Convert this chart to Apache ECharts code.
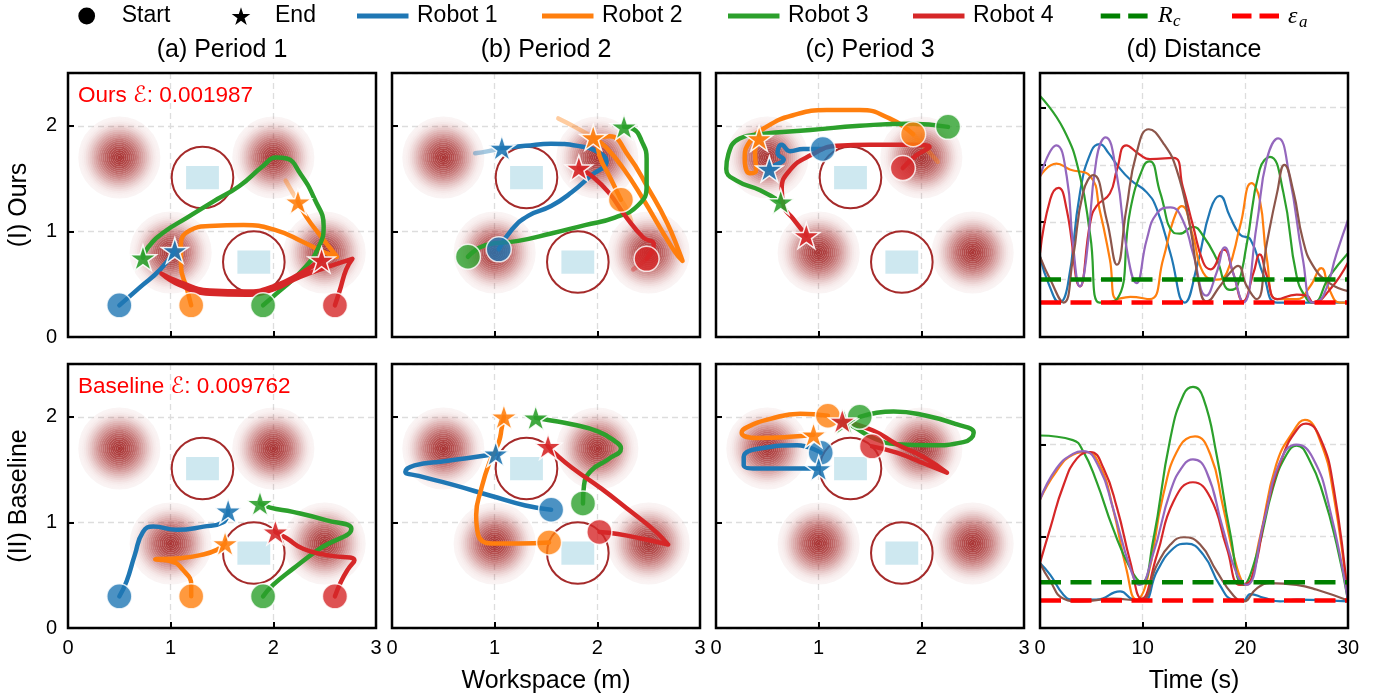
<!DOCTYPE html>
<html>
<head>
<meta charset="utf-8">
<script src="https://cdn.jsdelivr.net/npm/echarts@6/dist/echarts.min.js"></script>
<style>
  html, body { margin: 0; padding: 0; background: #fff; }
  #chart { width: 1390px; height: 698px; }
</style>
</head>
<body>
<div id="chart"></div>
<script>
// ---------- labels ----------
const robotNames = ['Robot 1', 'Robot 2', 'Robot 3', 'Robot 4'];
const robotColors = ['#1f77b4', '#ff7f0e', '#2ca02c', '#d62728'];
const pairColors = ['#1f77b4', '#ff7f0e', '#2ca02c', '#d62728', '#9467bd', '#8c564b'];
const columnTitles = ['(a) Period 1', '(b) Period 2', '(c) Period 3', '(d) Distance'];
const rowTitles = ['(I) Ours', '(II) Baseline'];
const errorNotes = ['Ours \u2130: 0.001987', 'Baseline \u2130: 0.009762'];

// ---------- workspace map ----------
const hazardCenters = [[0.5, 1.7], [2.0, 1.7], [1.0, 0.8], [2.5, 0.8]];
const hazardRadius = 0.4;
const keepOutCenters = [[1.31, 1.51], [1.81, 0.71]];
const keepOutRadius = 0.3;
const targetBoxes = [[1.15, 1.40, 1.47, 1.62], [1.65, 0.60, 1.97, 0.82]];

// ---------- trajectories (x, y in m), order: Robot 1..4 ----------
const oursP1 = [
  [[0.5,0.3],[0.7,0.47],[0.9,0.64],[1.04,0.82]],
  [[1.2,0.3],[1.16,0.45],[1.1,0.68],[1.1,0.88],[1.19,1.01],[1.38,1.05],[1.71,1.06],[2.03,1.01],[2.29,0.9],[2.5,0.8],[2.62,0.76],[2.45,0.97],[2.32,1.14],[2.24,1.28]],
  [[1.9,0.3],[2.03,0.41],[2.31,0.66],[2.45,0.87],[2.49,1.05],[2.4,1.31],[2.26,1.55],[2.13,1.69],[2.03,1.7],[1.9,1.62],[1.67,1.43],[1.41,1.28],[1.16,1.13],[0.93,0.99],[0.78,0.85],[0.73,0.75]],
  [[2.6,0.3],[2.65,0.45],[2.71,0.64],[2.77,0.74],[2.58,0.68],[2.26,0.57],[2.0,0.45],[1.74,0.4],[1.38,0.41],[1.09,0.49],[0.91,0.6],[1.09,0.52],[1.38,0.44],[1.74,0.43],[2.0,0.48],[2.26,0.6],[2.47,0.73]]
];
const oursP2 = [
  [[1.04,0.83],[1.17,1.02],[1.33,1.15],[1.55,1.24],[1.75,1.37],[1.94,1.53],[2.09,1.66],[2.01,1.75],[1.81,1.81],[1.55,1.83],[1.3,1.81],[1.07,1.79]],
  [[2.23,1.3],[2.12,1.52],[2.02,1.72],[2.0,1.86],[2.12,1.9],[2.3,1.72],[2.5,1.4],[2.68,1.08],[2.8,0.8],[2.83,0.72],[2.76,0.8],[2.62,1.02],[2.45,1.3],[2.25,1.6],[2.08,1.8],[1.96,1.89]],
  [[0.74,0.76],[0.91,0.87],[1.23,0.91],[1.55,0.98],[1.88,1.06],[2.17,1.13],[2.4,1.25],[2.48,1.43],[2.48,1.69],[2.43,1.86],[2.35,1.97],[2.26,1.99]],
  [[2.48,0.74],[2.55,0.88],[2.45,0.94],[2.27,1.15],[2.11,1.37],[1.94,1.53],[1.82,1.6]]
];
const oursP3 = [
  [[1.04,1.78],[0.85,1.78],[0.72,1.76],[0.64,1.82],[0.6,1.74],[0.66,1.68],[0.58,1.63],[0.52,1.59]],
  [[1.92,1.92],[1.69,2.07],[1.4,2.15],[1.08,2.15],[0.75,2.1],[0.49,1.99],[0.33,1.85],[0.28,1.69],[0.33,1.55],[0.39,1.58],[0.38,1.75],[0.42,1.88]],
  [[2.26,1.99],[1.89,2.02],[1.4,2.0],[0.92,1.96],[0.43,1.92],[0.23,1.88],[0.12,1.73],[0.1,1.59],[0.2,1.48],[0.43,1.39],[0.63,1.28]],
  [[1.82,1.6],[1.95,1.72],[2.08,1.8],[1.89,1.82],[1.5,1.82],[1.18,1.81],[0.92,1.72],[0.72,1.58],[0.64,1.4],[0.66,1.24],[0.75,1.12],[0.88,0.96]]
];
// faint neighbouring-period pieces: [robot index, points]
const oursP1Context = [[1, [[2.24,1.28],[2.18,1.38],[2.12,1.48]]]];
const oursP2Context = [
  [0, [[1.07,1.79],[0.94,1.76],[0.81,1.74]]],
  [1, [[1.96,1.89],[1.78,1.99],[1.62,2.07]]],
  [1, [[2.33,1.10],[2.28,1.22],[2.23,1.3]]],
  [3, [[2.35,0.64],[2.42,0.69],[2.48,0.74]]]
];
const oursP3Context = [[1, [[1.92,1.92],[2.05,1.78],[2.16,1.66]]]];

const baseP1 = [
  [[0.5,0.3],[0.57,0.44],[0.65,0.69],[0.73,0.91],[0.83,0.96],[1.06,0.93],[1.32,0.96],[1.51,1.0],[1.56,1.11]],
  [[1.2,0.3],[1.2,0.41],[1.12,0.55],[1.01,0.63],[0.85,0.65],[1.08,0.66],[1.29,0.69],[1.45,0.74],[1.53,0.8]],
  [[1.9,0.3],[2.0,0.41],[2.19,0.56],[2.45,0.75],[2.76,0.94],[2.52,1.02],[2.19,1.1],[1.97,1.14],[1.87,1.18]],
  [[2.6,0.3],[2.66,0.44],[2.73,0.56],[2.79,0.64],[2.52,0.69],[2.29,0.75],[2.13,0.85],[2.02,0.91]]
];
const baseP2 = [
  [[1.55,1.12],[1.3,1.16],[0.97,1.25],[0.58,1.36],[0.26,1.44],[0.13,1.48],[0.22,1.54],[0.51,1.58],[0.81,1.62],[1.01,1.65]],
  [[1.53,0.81],[1.23,0.8],[0.97,0.8],[0.84,0.88],[0.82,1.07],[0.87,1.32],[0.95,1.57],[1.04,1.76],[1.07,1.9],[1.09,2.0]],
  [[1.86,1.18],[1.87,1.35],[1.94,1.49],[2.11,1.6],[2.23,1.7],[2.17,1.77],[2.01,1.86],[1.75,1.93],[1.52,1.97],[1.4,1.99]],
  [[2.02,0.91],[2.2,0.89],[2.46,0.84],[2.69,0.79],[2.56,0.92],[2.33,1.1],[2.04,1.32],[1.75,1.52],[1.59,1.65],[1.52,1.72]]
];
const baseP3 = [
  [[1.02,1.66],[0.79,1.73],[0.49,1.71],[0.27,1.62],[0.27,1.54],[0.49,1.51],[0.79,1.51],[1.0,1.51]],
  [[1.09,2.01],[0.82,2.03],[0.53,1.98],[0.3,1.9],[0.25,1.85],[0.4,1.8],[0.72,1.81],[0.95,1.83]],
  [[1.4,2.0],[1.73,2.05],[2.05,2.01],[2.34,1.93],[2.51,1.85],[2.41,1.76],[2.08,1.73],[1.76,1.74],[1.53,1.8],[1.35,1.9],[1.25,1.95]],
  [[1.52,1.72],[1.76,1.66],[2.02,1.56],[2.25,1.47],[2.02,1.62],[1.76,1.74],[1.53,1.87],[1.23,1.96]]
];

// ---------- pairwise distances [t (s), d (m)] ----------
const oursDist1 = [[0,0.70],[0.9,0.45],[1.9,0.3],[2.7,0.45],[3.9,1.26],[5.0,1.62],[5.8,1.68],[6.7,1.6],[7.5,1.5],[8.8,1.37],[10.4,1.26],[11.4,1.11],[12.7,0.73],[14.1,0.3],[15.3,0.62],[16.6,1.11],[17.5,1.23],[18.5,1.05],[19.5,0.89],[20.5,0.85],[21.8,0.53],[23.1,0.3],[26,0.3],[30,0.3]];
const oursDist2 = [[0,1.40],[1.6,1.51],[2.9,1.46],[4.9,1.40],[5.8,1.11],[6.8,0.68],[7.5,0.33],[8.8,0.35],[10.7,0.33],[12,0.68],[13,1.02],[13.8,1.14],[14.9,0.88],[15.9,0.56],[17.2,0.5],[18.2,0.56],[19.5,0.97],[20.6,1.34],[21.4,1.2],[22.1,0.68],[23.1,0.33],[25,0.33],[26.3,0.44],[27.4,0.6],[28.2,0.41],[29.2,0.3],[30,0.3]];
const oursDist3 = [[0,2.1],[2.3,1.81],[3.9,1.40],[4.9,0.88],[5.8,0.3],[7.5,0.33],[8.8,1.11],[10.1,1.49],[10.7,1.53],[11.7,1.26],[13,0.91],[13.6,0.9],[14.9,0.96],[15.9,0.88],[17.2,0.68],[18.5,0.41],[19.2,0.44],[20.1,0.79],[21.4,1.46],[22.4,1.57],[23.7,1.26],[25,0.53],[26,0.33],[26.6,0.3],[28.2,0.53],[30,0.73]];
const oursDist4 = [[0,0.73],[1,1.2],[1.8,1.3],[2.6,1.11],[3.9,0.44],[4.9,1.0],[5.5,1.14],[6.8,1.25],[7.5,1.46],[8.4,1.67],[9.7,1.59],[10.7,1.55],[13,1.56],[13.9,1.31],[14.9,0.97],[15.9,0.65],[16.6,0.59],[17.9,0.76],[18.8,0.56],[19.8,0.31],[20.8,0.56],[21.4,0.72],[22.1,0.53],[23.1,0.33],[25,0.37],[26,0.36],[26.6,0.3],[28.2,0.41],[30,0.65]];
const oursDist5 = [[0,1.4],[1.6,1.67],[2.6,1.4],[3.2,0.82],[3.9,0.44],[4.5,0.68],[5.5,1.55],[6.4,1.74],[7.5,1.4],[8.4,0.79],[9.4,0.47],[10.4,0.85],[11.4,1.08],[12.7,1.13],[13.9,1.02],[14.9,0.73],[16.2,0.36],[17.2,0.56],[18,0.78],[18.8,0.56],[19.8,0.3],[21.1,0.97],[22.1,1.55],[23.2,1.73],[24.3,1.4],[25.6,0.68],[26.6,0.3],[27.6,0.36],[28.9,0.73],[30,1.02]];
const oursDist6 = [[0,0.7],[1,0.5],[2.3,0.3],[3.2,0.68],[4.2,1.26],[5.2,1.41],[6.5,1.02],[7.5,0.63],[8.4,1.11],[9.4,1.6],[10.6,1.81],[12,1.69],[13.3,1.46],[14.6,0.97],[15.6,0.41],[16.2,0.31],[17.5,0.44],[18.5,0.56],[19.3,0.62],[20.1,0.45],[21.1,0.33],[22.1,0.82],[23.1,1.26],[23.8,1.5],[24.7,1.26],[25.6,0.85],[26.6,0.62],[28.2,0.47],[30,0.4]];

const baseDist1 = [[0,0.71],[1,0.58],[2.3,0.36],[3.2,0.31],[5.5,0.31],[7.8,0.4],[9.1,0.31],[10.1,0.3],[11.4,0.62],[13,0.87],[14.3,0.92],[15.9,0.8],[17.5,0.47],[18.8,0.31],[19.8,0.3],[20.5,0.37],[21.8,0.33],[23.4,0.29],[25,0.31],[30,0.29]];
const baseDist2 = [[0,1.4],[1.6,1.71],[3.2,1.89],[4.5,1.92],[5.8,1.78],[7.1,1.31],[8.4,0.65],[9.4,0.31],[10.4,0.51],[12,1.45],[13.6,1.98],[15.1,2.09],[16.6,1.89],[17.8,1.34],[19.2,0.65],[20.1,0.47],[21.4,0.98],[23,1.78],[24.7,2.15],[25.8,2.27],[27.3,2.04],[28.6,1.45],[30,0.3]];
const baseDist3 = [[0,2.1],[3.2,2.05],[4.2,1.93],[5.5,1.6],[7.1,1.09],[8.8,0.65],[9.9,0.5],[11,0.94],[12.7,2.07],[14,2.55],[14.9,2.63],[15.9,2.51],[17.2,1.89],[18.5,1.05],[19.8,0.47],[21.1,0.8],[22.7,1.53],[24,1.89],[25,1.99],[26.3,1.82],[27.6,1.45],[28.9,0.91],[30,0.3]];
const baseDist4 = [[0,0.71],[1,1.09],[2.3,1.56],[3.6,1.85],[4.9,1.92],[6.2,1.74],[7.5,1.31],[8.8,0.72],[9.9,0.32],[11.4,0.8],[13,1.38],[14.9,1.59],[16.6,1.42],[18.2,0.87],[19.5,0.47],[20.6,0.54],[22.1,1.31],[23.7,1.89],[25,2.16],[25.9,2.23],[27.3,2.07],[28.6,1.53],[30,0.3]];
const baseDist5 = [[0,1.4],[1.6,1.74],[3.2,1.9],[4.2,1.93],[5.8,1.74],[7.1,1.31],[8.8,0.65],[9.7,0.47],[11,0.8],[12.7,1.49],[14,1.78],[14.9,1.84],[16.2,1.71],[17.8,1.09],[19.2,0.58],[20.1,0.47],[21.8,1.16],[23.4,1.82],[25,2.0],[26.6,1.85],[28.2,1.31],[30,0.3]];
const baseDist6 = [[0,0.71],[1,0.51],[2.3,0.32],[3.9,0.29],[7.1,0.32],[9.7,0.3],[11.4,0.69],[12.7,0.91],[14,0.99],[15.6,0.91],[17.2,0.62],[18.8,0.36],[19.8,0.29],[21.1,0.43],[22.4,0.49],[25,0.47],[26.9,0.42],[30,0.3]];

const commRadius = 0.5;   // R_c
const safetyGap = 0.3;    // epsilon_a
const timeEnd = 30;

// ---------- layout ----------
const FONT = "'Liberation Sans', 'DejaVu Sans', sans-serif";
const MATH = "'Liberation Serif', 'DejaVu Serif', serif";
const colLeft = [68, 392, 716, 1040];
const rowTop = [73, 364];
const panelW = 308, panelH = 264;

function starPath() {
  let d = '';
  for (let k = 0; k < 10; k++) {
    const ang = -Math.PI / 2 + k * Math.PI / 5;
    const rad = k % 2 === 0 ? 1 : 0.382;
    d += (k === 0 ? 'M' : 'L') + (Math.cos(ang) * rad).toFixed(4) + ' ' + (Math.sin(ang) * rad).toFixed(4) + ' ';
  }
  return 'path://' + d + 'Z';
}
const STAR = starPath();

function starPoints(cx, cy, R) {
  const pts = [];
  for (let k = 0; k < 10; k++) {
    const ang = -Math.PI / 2 + k * Math.PI / 5;
    const rad = k % 2 === 0 ? R : R * 0.382;
    pts.push([cx + Math.cos(ang) * rad, cy + Math.sin(ang) * rad]);
  }
  return pts;
}

function hazardItem(params, api) {
  const c = api.coord([api.value(0), api.value(1)]);
  const R = api.size([hazardRadius, 0])[0];
  const N = 22;
  const children = [];
  for (let k = 0; k < N; k++) {
    const u1 = 1 - k / N, u0 = 1 - (k + 1) / N;
    const a = 0.05 + 0.9 * Math.pow(1 - u1 * u1, 2);
    children.push({
      type: 'ring',
      shape: { cx: c[0], cy: c[1], r: R * u1, r0: R * u0 },
      style: { fill: 'rgba(165,42,42,' + a.toFixed(3) + ')' }
    });
  }
  return { type: 'group', children: children };
}

function keepOutItem(params, api) {
  const c = api.coord([api.value(0), api.value(1)]);
  const r = api.size([keepOutRadius, 0])[0];
  return {
    type: 'circle',
    shape: { cx: c[0], cy: c[1], r: r },
    style: { fill: 'none', stroke: '#a52a2a', lineWidth: 2 }
  };
}

function boxItem(params, api) {
  const p0 = api.coord([api.value(0), api.value(3)]);
  const p1 = api.coord([api.value(2), api.value(1)]);
  return {
    type: 'rect',
    shape: { x: p0[0], y: p0[1], width: p1[0] - p0[0], height: p1[1] - p0[1] },
    style: { fill: '#add8e6', opacity: 0.6 }
  };
}

const grids = [], xAxes = [], yAxes = [], series = [], graphics = [];
const splitStyle = { show: true, lineStyle: { color: '#dddddd', type: [6, 4], width: 1.3 } };
const tickStyle = { show: true, inside: true, length: 6, lineStyle: { color: '#000', width: 2 } };

for (let row = 0; row < 2; row++) {
  for (let col = 0; col < 4; col++) {
    const gi = row * 4 + col;
    const isTime = col === 3;
    grids.push({ left: colLeft[col], top: rowTop[row], width: panelW, height: panelH });
    const xa = {
      gridIndex: gi, type: 'value', min: 0, max: isTime ? timeEnd : 3, interval: isTime ? 10 : 1,
      axisLine: { show: false }, axisTick: tickStyle,
      axisLabel: { show: row === 1, fontSize: 20, color: '#000', margin: 10, fontFamily: FONT, showMinLabel: true, showMaxLabel: true },
      splitLine: splitStyle
    };
    if (row === 1 && col === 1) Object.assign(xa, { name: 'Workspace (m)', nameLocation: 'middle', nameGap: 41, nameTextStyle: { fontSize: 25, color: '#000', fontFamily: FONT } });
    if (row === 1 && col === 3) Object.assign(xa, { name: 'Time (s)', nameLocation: 'middle', nameGap: 41, nameTextStyle: { fontSize: 25, color: '#000', fontFamily: FONT } });
    xAxes.push(xa);
    yAxes.push({
      gridIndex: gi, type: 'value', min: 0,
      max: isTime ? (row === 0 ? 2.3 : 2.88) : 2.5,
      interval: isTime ? (row === 0 ? 0.5 : 1) : 1,
      axisLine: { show: false }, axisTick: tickStyle,
      axisLabel: { show: col === 0, fontSize: 20, color: '#000', margin: 11, fontFamily: FONT, showMaxLabel: false, showMinLabel: true },
      splitLine: splitStyle
    });
    // panel frame
    graphics.push({
      type: 'rect', silent: true, z: 100,
      shape: { x: colLeft[col], y: rowTop[row], width: panelW, height: panelH },
      style: { fill: 'none', stroke: '#000', lineWidth: 2.5 }
    });
  }
}

const periodsByRow = [[oursP1, oursP2, oursP3], [baseP1, baseP2, baseP3]];
const contextByRow = [[oursP1Context, oursP2Context, oursP3Context], [[], [], []]];
const distByRow = [
  [oursDist1, oursDist2, oursDist3, oursDist4, oursDist5, oursDist6],
  [baseDist1, baseDist2, baseDist3, baseDist4, baseDist5, baseDist6]
];

for (let row = 0; row < 2; row++) {
  for (let col = 0; col < 3; col++) {
    const gi = row * 4 + col;
    const axes = { xAxisIndex: gi, yAxisIndex: gi };
    series.push(Object.assign({ type: 'custom', renderItem: hazardItem, data: hazardCenters, silent: true, z: 1 }, axes));
    series.push(Object.assign({ type: 'custom', renderItem: keepOutItem, data: keepOutCenters, silent: true, z: 2 }, axes));
    series.push(Object.assign({ type: 'custom', renderItem: boxItem, data: targetBoxes, silent: true, z: 2 }, axes));
    contextByRow[row][col].forEach(function (seg) {
      series.push(Object.assign({
        type: 'line', data: seg[1], smooth: 0.5, showSymbol: false, silent: true, z: 3,
        lineStyle: { color: robotColors[seg[0]], width: 4.5, opacity: 0.4, cap: 'round', join: 'round' }
      }, axes));
    });
    const paths = periodsByRow[row][col];
    paths.forEach(function (pts, r) {
      series.push(Object.assign({
        type: 'line', data: pts, smooth: 0.5, showSymbol: false, silent: true, z: 4,
        lineStyle: { color: robotColors[r], width: 4.5, cap: 'round', join: 'round' }
      }, axes));
    });
    paths.forEach(function (pts, r) {
      series.push(Object.assign({
        type: 'scatter', data: [pts[0]], symbol: 'circle', symbolSize: 25, silent: true, z: 5,
        itemStyle: { color: robotColors[r], opacity: 0.8, borderColor: '#fff', borderWidth: 1.5 }
      }, axes));
    });
    paths.forEach(function (pts, r) {
      series.push(Object.assign({
        type: 'scatter', data: [pts[pts.length - 1]], symbol: STAR, symbolKeepAspect: true, symbolSize: 27, silent: true, z: 6,
        itemStyle: { color: robotColors[r], opacity: 0.9, borderColor: '#fff', borderWidth: 1.5 }
      }, axes));
    });
  }
  // distance panel
  const gi = row * 4 + 3;
  const axes = { xAxisIndex: gi, yAxisIndex: gi };
  distByRow[row].forEach(function (pts, k) {
    series.push(Object.assign({
      type: 'line', data: pts, smooth: 0.5, showSymbol: false, silent: true, z: 4,
      lineStyle: { color: pairColors[k], width: 2.2 }
    }, axes));
  });
  series.push(Object.assign({
    type: 'line', data: [[0, commRadius], [timeEnd, commRadius]], showSymbol: false, silent: true, z: 7,
    lineStyle: { color: '#008000', width: 4.5, type: [21, 9.5] }
  }, axes));
  series.push(Object.assign({
    type: 'line', data: [[0, safetyGap], [timeEnd, safetyGap]], showSymbol: false, silent: true, z: 7,
    lineStyle: { color: '#ff0000', width: 4.5, type: [21, 9.5] }
  }, axes));
}

// ---------- titles, notes, row labels ----------
const colCenters = colLeft.map(function (l) { return l + panelW / 2; });
columnTitles.forEach(function (t, i) {
  graphics.push({ type: 'text', x: colCenters[i], y: 50, silent: true,
    style: { text: t, fill: '#000', fontSize: 25, fontFamily: FONT, align: 'center', verticalAlign: 'middle' } });
});
rowTitles.forEach(function (t, i) {
  graphics.push({ type: 'text', x: 19, y: rowTop[i] + panelH / 2, rotation: Math.PI / 2, silent: true,
    style: { text: t, fill: '#000', fontSize: 25, fontFamily: FONT, align: 'center', verticalAlign: 'middle' } });
});
errorNotes.forEach(function (t, i) {
  graphics.push({ type: 'text', x: 78, y: rowTop[i] + 23, silent: true, z: 50,
    style: { text: t, fill: '#ff0000', fontSize: 22.5, fontFamily: FONT, align: 'left', verticalAlign: 'middle' } });
});

// ---------- legend row ----------
const LY = 16;
graphics.push({ type: 'circle', silent: true, shape: { cx: 86.7, cy: LY, r: 8.4 }, style: { fill: '#000' } });
graphics.push({ type: 'text', x: 121.7, y: LY, silent: true, style: { text: 'Start', fill: '#000', fontSize: 23, fontFamily: FONT, align: 'left', verticalAlign: 'middle' } });
graphics.push({ type: 'polygon', silent: true, shape: { points: starPoints(241, LY + 1, 9.8) }, style: { fill: '#000' } });
graphics.push({ type: 'text', x: 275, y: LY, silent: true, style: { text: 'End', fill: '#000', fontSize: 23, fontFamily: FONT, align: 'left', verticalAlign: 'middle' } });
const legendLineX = [357, 542, 728, 913];
robotNames.forEach(function (n, i) {
  const x0 = legendLineX[i];
  graphics.push({ type: 'line', silent: true, shape: { x1: x0, y1: LY, x2: x0 + 51.5, y2: LY }, style: { stroke: robotColors[i], lineWidth: 5 } });
  graphics.push({ type: 'text', x: x0 + 60, y: LY, silent: true, style: { text: n, fill: '#000', fontSize: 23, fontFamily: FONT, align: 'left', verticalAlign: 'middle' } });
});
graphics.push({ type: 'line', silent: true, shape: { x1: 1100.7, y1: LY, x2: 1147.6, y2: LY }, style: { stroke: '#008000', lineWidth: 5, lineDash: [19.5, 8] } });
graphics.push({ type: 'text', x: 1158, y: LY, silent: true, style: { text: 'R', fill: '#000', fontSize: 24, fontStyle: 'italic', fontFamily: MATH, align: 'left', verticalAlign: 'middle' } });
graphics.push({ type: 'text', x: 1173, y: LY + 6, silent: true, style: { text: 'c', fill: '#000', fontSize: 17, fontStyle: 'italic', fontFamily: MATH, align: 'left', verticalAlign: 'middle' } });
graphics.push({ type: 'line', silent: true, shape: { x1: 1232, y1: LY, x2: 1279, y2: LY }, style: { stroke: '#ff0000', lineWidth: 5, lineDash: [19.5, 8] } });
graphics.push({ type: 'text', x: 1288, y: LY + 1, silent: true, style: { text: '\u03b5', fill: '#000', fontSize: 24, fontStyle: 'italic', fontFamily: MATH, align: 'left', verticalAlign: 'middle' } });
graphics.push({ type: 'text', x: 1299, y: LY + 7, silent: true, style: { text: 'a', fill: '#000', fontSize: 17, fontStyle: 'italic', fontFamily: MATH, align: 'left', verticalAlign: 'middle' } });

const chart = echarts.init(document.getElementById('chart'), null, { renderer: 'canvas' });
chart.setOption({
  animation: false,
  backgroundColor: '#fff',
  textStyle: { fontFamily: FONT },
  grid: grids,
  xAxis: xAxes,
  yAxis: yAxes,
  series: series,
  graphic: { elements: graphics }
});
</script>
</body>
</html>
